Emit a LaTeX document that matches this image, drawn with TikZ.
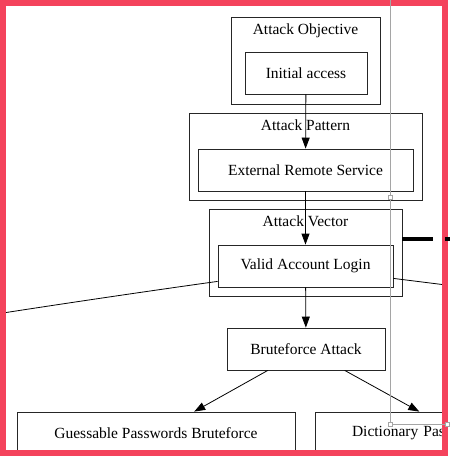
\documentclass[tikz,border=0pt]{standalone}
\usepackage{fontspec}
\setmainfont{Liberation Serif}
\usetikzlibrary{arrows.meta, positioning}
\definecolor{framered}{RGB}{244,67,92}
\definecolor{guide}{RGB}{165,165,165}

\begin{document}
\begin{tikzpicture}[x=1pt, y=-1pt, >={Triangle[length=11pt, width=8pt]},
    cluster/.style={draw=black!85, line width=0.8pt, inner sep=0pt},
    box/.style={draw=black!85, line width=0.8pt, minimum height=42pt, inner sep=0pt},
    title/.style={inner sep=0pt},
    edge/.style={->, line width=0.8pt},
    handle/.style={draw=guide, fill=white, minimum size=4pt, inner sep=0pt},
    font=\fontsize{15.5}{18}\selectfont
  ]
  \useasboundingbox (0,0) rectangle (450,456);

  \begin{scope}
  \clip (6,5) rectangle (442,449);

  % Clusters manually positioned
  \node[cluster, minimum width=149pt, minimum height=87pt] (objC) at (305.5,60.5) {};
  \node[cluster, minimum width=233pt, minimum height=87pt] (patC) at (305.5,156.5) {};
  \node[cluster, minimum width=193pt, minimum height=87pt] (vecC) at (305.5,252.5) {};

  % Nodes
  \node[box, minimum width=122pt] (init) at (306,73) {Initial access};
  \node[box, minimum width=215pt] (ers) at (305.5,170) {External Remote Service};
  \node[box, minimum width=175pt] (val) at (305.5,266) {Valid Account Login};
  \node[box, minimum width=158pt] (brute) at (306,349) {Bruteforce Attack};
  \node[box, minimum width=278pt] (guess) at (156,433) {Guessable Passwords Bruteforce};
  \node[box, text width=212pt, align=left, inner xsep=37pt] (dict) at (458,433) {Dictionary Pas};

  % Cluster titles
  \node[title, below=7pt of objC.north] (objT) {Attack Objective};
  \node[title, below=7pt of patC.north] (patT) {Attack Pattern};
  \node[title, below=7pt of vecC.north] (vecT) {Attack Vector};

  % Edges
  \draw[edge] (init) -- (ers);
  \draw[edge] (ers) -- (val);
  \draw[edge] (val) -- (brute);
  \draw[edge] (brute) -- (guess);
  \draw[edge] (brute) -- (dict);

  % Lines leaving the view
  \coordinate (lftEnd) at (-10,315);
  \coordinate (rgtEnd) at (470,288);
  \draw[line width=0.8pt] ([yshift=6pt]val.south west) .. controls (170,288) and (80,301) .. (lftEnd);
  \draw[line width=0.8pt] ([yshift=9pt]val.south east) -- (rgtEnd);
  \end{scope}

  % Frame
  \draw[framered, line width=6pt] (3,2.5) rectangle (445,452.5);

  % Thick dashed link
  \coordinate (dashEnd) at (480,239);
  \draw[line width=3.5pt, dash pattern=on 31pt off 12pt] ([yshift=13.5pt]vecC.east) -- (dashEnd);

  % Selection guide
  \coordinate (gTop) at (390,-2);
  \coordinate (gRgt) at (456,424);
  \node[handle] (h1) at (390,197) {};
  \node[handle] (h2) at (390,424) {};
  \node[handle] (h3) at (447,424) {};
  \draw[guide, line width=0.8pt] (gTop) -- (h1) -- (h2) -- (h3) -- (gRgt);

\end{tikzpicture}
\end{document}
